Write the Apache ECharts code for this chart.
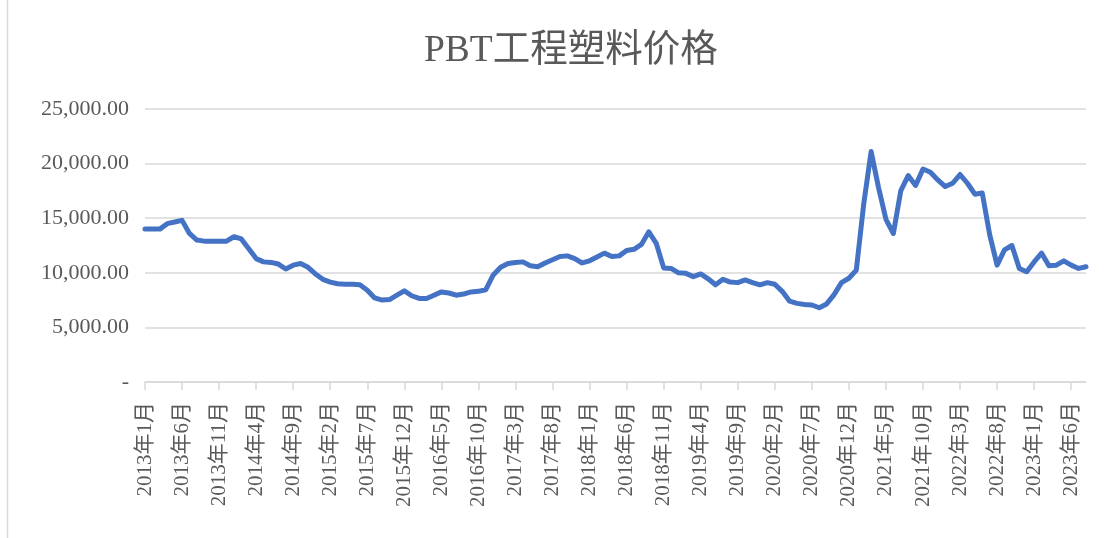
<!DOCTYPE html>
<html>
<head>
<meta charset="utf-8">
<title>PBT工程塑料价格</title>
<script src="https://cdn.jsdelivr.net/npm/echarts@6/dist/echarts.min.js"></script>
<style>
  html, body { margin: 0; padding: 0; background: #fff; }
  #main { width: 1110px; height: 538px; }
</style>
</head>
<body>
<div id="main"></div>
<script>
// 月度价格，2013年1月 ~ 2023年8月
var startYear = 2013
var monthCount = 128
var prices = [
  14000, 14000, 14000, 14500, 14650, 14800, 13600, 13000, 12900, 12900,
  12900, 12900, 13300, 13100, 12200, 11300, 11000, 10950, 10800, 10350,
  10700, 10850, 10500, 9900, 9400, 9150, 9000, 8950, 8950, 8900,
  8400, 7700, 7500, 7550, 7950, 8350, 7900, 7650, 7650, 7950,
  8250, 8150, 7950, 8050, 8250, 8300, 8450, 9800, 10500, 10850,
  10950, 11000, 10650, 10550, 10900, 11200, 11500, 11550, 11300, 10900,
  11100, 11450, 11800, 11500, 11550, 12050, 12150, 12600, 13750, 12700,
  10450, 10400, 10000, 9950, 9650, 9900, 9450, 8900, 9400, 9150,
  9100, 9350, 9100, 8900, 9100, 8950, 8300, 7400, 7200, 7100,
  7050, 6800, 7150, 8000, 9100, 9500, 10250, 16300, 21100, 17800,
  14900, 13600, 17500, 18900, 18000, 19500, 19200, 18500, 17900, 18200,
  19000, 18200, 17200, 17300, 13500, 10700, 12100, 12500, 10400, 10100,
  11000, 11800, 10650, 10700, 11100, 10700, 10400, 10550
]
var yTicks = [0, 5000, 10000, 15000, 20000, 25000]

var months = []
for (var i = 0; i < monthCount; i++) {
  months.push((startYear + Math.floor(i / 12)) + '年' + (i % 12 + 1) + '月')
}

var font = "'Liberation Serif', 'Noto Sans CJK SC', serif"
var chart = echarts.init(document.getElementById('main'))

chart.setOption({
  animation: false,
  title: {
    text: 'PBT工程塑料价格',
    left: 419,
    top: 27,
    textStyle: {
      fontFamily: font,
      fontSize: 37.5,
      fontWeight: 'normal',
      color: '#595959'
    }
  },
  // 左侧边框
  graphic: [{
    type: 'line',
    shape: { x1: 7.5, y1: 0, x2: 7.5, y2: 538 },
    style: { stroke: '#D9D9D9', lineWidth: 1.5 },
    silent: true
  }],
  grid: {
    left: 145,
    right: 24,
    top: 109,
    bottom: 156
  },
  xAxis: {
    type: 'category',
    boundaryGap: false,
    data: months,
    axisLine: { lineStyle: { color: '#D9D9D9', width: 1.5 } },
    axisTick: {
      interval: 4,
      length: 8,
      lineStyle: { color: '#D9D9D9', width: 1.5 }
    },
    axisLabel: {
      interval: 4,
      rotate: 90,
      margin: 20,
      fontFamily: font,
      fontSize: 21,
      color: '#595959'
    }
  },
  yAxis: {
    type: 'value',
    min: yTicks[0],
    max: yTicks[yTicks.length - 1],
    interval: 5000,
    axisLine: { show: false },
    axisTick: { show: false },
    splitLine: { lineStyle: { color: '#D9D9D9', width: 1.5 } },
    axisLabel: {
      margin: 16,
      fontFamily: font,
      fontSize: 22,
      color: '#595959',
      formatter: function (v) {
        if (v === 0) return '-'
        return v.toLocaleString('en-US', { minimumFractionDigits: 2, maximumFractionDigits: 2 })
      }
    }
  },
  series: [{
    type: 'line',
    data: prices,
    symbol: 'none',
    smooth: false,
    lineStyle: { color: '#4472C4', width: 5, join: 'round', cap: 'round' }
  }]
})
</script>
</body>
</html>
